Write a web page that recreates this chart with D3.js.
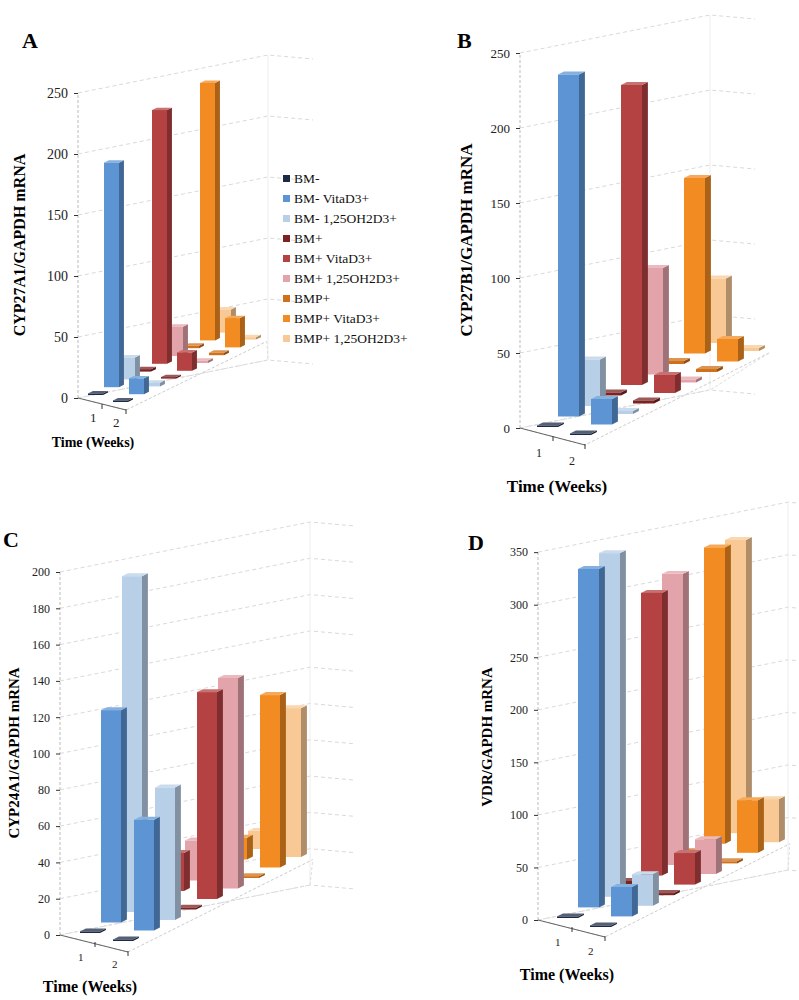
<!DOCTYPE html>
<html><head><meta charset="utf-8">
<script src="https://cdnjs.cloudflare.com/ajax/libs/d3/7.8.5/d3.min.js"></script>
<style>body{margin:0;background:#fff} svg text{font-family:"Liberation Serif",serif !important}</style>
</head><body><svg id="c" width="799" height="1000" font-family="Liberation Serif"></svg>
<script>
const seriesNames = ["BM-","BM- VitaD3+","BM- 1,25OH2D3+","BM+","BM+ VitaD3+","BM+ 1,25OH2D3+","BMP+","BMP+ VitaD3+","BMP+ 1,25OH2D3+"];
const seriesColors = ["#1c2b45","#5d95d4","#b8cfe8","#7b2222","#b44242","#e3a3aa","#d0701a","#f28c22","#f9c995"];
const weeks = ["1","2"];
// values: [week1, week2] per series
const valuesA = [[0,0],[184,13],[18,3],[2,1],[208,15],[24,2],[2,2],[211,24],[19,2]];
const valuesB = [[0,0],[228,17],[31,2],[2,2],[200,12],[71,2],[2,2],[117,15],[43,2]];
const valuesC = [[0,0],[117,61],[185,73],[5,1],[21,114],[22,116],[3,1],[12,95],[10,82]];
const valuesD = [[0,0],[322,28],[327,30],[5,2],[269,30],[277,33],[3,2],[282,50],[279,41]];
const ticksA = [0,50,100,150,200,250];
const ticksB = [0,50,100,150,200,250];
const ticksC = [0,20,40,60,80,100,120,140,160,180,200];
const ticksD = [0,50,100,150,200,250,300,350];
const titles = ["CYP27A1/GAPDH mRNA","CYP27B1/GAPDH mRNA","CYP24A1/GAPDH mRNA","VDR/GAPDH mRNA"];
const letters = ["A","B","C","D"];

const svg = d3.select("#c");
function shade(c, f){ return f>0? d3.interpolateRgb(c,"#fff")(f) : d3.interpolateRgb(c,"#000")(-f); }

const panels = [
 {vals:valuesA,ticks:ticksA,title:titles[0],L:letters[0],Lx:22,Ly:48,ax:78,y0:398,k:1.22,ox:88,oy:395,sx:16,sy:-7.8,wx:25,wy:7,bw:15,sd:5,W:190,tfs:14,lfs:16,ylx:21,yly:245,
  wt:[[102,405],[126,410]],wl:[[90,422],[113,427]],tx:93,ty:447,tifs:14},
 {vals:valuesB,ticks:ticksB,title:titles[1],L:letters[1],Lx:457,Ly:48,ax:520,y0:428,k:1.5,ox:537,oy:427,sx:21,sy:-10.5,wx:33,wy:8,bw:21,sd:6,W:190,tfs:13,lfs:17,ylx:468,yly:240,
  wt:[[553,437],[585,445]],wl:[[536,457],[569,465]],tx:557,ty:492,tifs:17},
 {vals:valuesC,ticks:ticksC,title:titles[2],L:letters[2],Lx:3,Ly:547,ax:60,y0:935,k:1.815,ox:80,oy:933,sx:21,sy:-10.5,wx:33,wy:8,bw:20,sd:6,W:250,tfs:12,lfs:15,ylx:16,yly:753,
  wt:[[95,943],[128,952]],wl:[[78,961],[112,968]],tx:90,ty:992,tifs:16},
 {vals:valuesD,ticks:ticksD,title:titles[3],L:letters[3],Lx:468,Ly:550,ax:538,y0:920,k:1.051,ox:557,oy:918,sx:21,sy:-10.6,wx:33,wy:9,bw:21,sd:6,W:250,tfs:12,lfs:15,ylx:489,yly:737,
  wt:[[572,928],[605,937]],wl:[[555,946],[588,955]],tx:567,ty:980,tifs:16}
];

panels.forEach(p=>{
  const g = svg.append("g");
  const maxT = p.ticks[p.ticks.length-1];
  const y = d3.scaleLinear().domain([0,maxT]).range([p.y0, p.y0 - maxT*p.k]);
  const h = d3.scaleLinear().domain([0,maxT]).range([0, maxT*p.k]);
  const xs = d3.scaleLinear().domain([0,8]).range([p.ox, p.ox+8*p.sx]);
  const ys = d3.scaleLinear().domain([0,8]).range([p.oy, p.oy+8*p.sy]);
  const slope = 0.2;
  p.ticks.forEach(t=>{
    const yy=y(t);
    g.append("path").attr("d",`M${p.ax},${yy}L${p.ax+p.W},${yy-p.W*slope}L${p.ax+p.W+45},${yy-p.W*slope+4}`)
      .attr("fill","none").attr("stroke","#cfcfcf").attr("stroke-width",0.8).attr("stroke-dasharray","4,3");
  });
  g.append("line").attr("x1",p.ax).attr("x2",p.ax).attr("y1",y(0)).attr("y2",y(maxT)).attr("stroke","#bbb").attr("stroke-dasharray","3,2");
  g.append("line").attr("x1",p.ax+p.W).attr("x2",p.ax+p.W).attr("y1",y(0)-p.W*slope).attr("y2",y(maxT)-p.W*slope).attr("stroke","#ededed");
  const ax = d3.axisLeft(y).tickValues(p.ticks).tickSize(4).tickPadding(6);
  const axg = g.append("g").attr("transform",`translate(${p.ax},0)`).call(ax).attr("font-family","Liberation Serif");
  axg.select(".domain").remove();
  axg.selectAll("text").attr("font-size",p.tfs).attr("fill","#222");
  axg.selectAll("line").attr("stroke","#333");
  const e = p.wt[1];
  const endx = e[0]+8.8*p.sx, endy = e[1]+8.8*p.sy;
  g.append("path").attr("d",`M${p.ax},${p.y0}L${e[0]},${e[1]}L${endx},${endy}`).attr("fill","none").attr("stroke","#ccc").attr("stroke-dasharray","3,2");
  g.append("path").attr("d",`M${p.ax},${p.y0}L${p.ax+p.W},${p.y0-p.W*slope}L${endx},${endy}`).attr("fill","none").attr("stroke","#ddd").attr("stroke-dasharray","3,2");
  g.append("line").attr("x1",p.ax).attr("y1",p.y0).attr("x2",e[0]).attr("y2",e[1]).attr("stroke","#666");
  p.wt.forEach(t=>g.append("line").attr("x1",t[0]).attr("y1",t[1]-1).attr("x2",t[0]).attr("y2",t[1]+4).attr("stroke","#333"));
  p.wl.forEach((t,i)=>g.append("text").attr("x",t[0]).attr("y",t[1]).attr("font-size",p.tfs-1).attr("fill","#222").text(weeks[i]));
  g.append("text").attr("x",p.tx).attr("y",p.ty).attr("font-size",p.tifs).attr("font-weight","bold").attr("text-anchor","middle").text("Time (Weeks)");
  g.append("text").attr("transform",`translate(${p.ylx},${p.yly}) rotate(-90)`).attr("font-size",p.lfs).attr("font-weight","bold").attr("text-anchor","middle").attr("dominant-baseline","middle").text(p.title);
  svg.append("text").attr("x",p.Lx).attr("y",p.Ly).attr("font-size",22).attr("font-weight","bold").text(p.L);
  const len = Math.hypot(p.sx,p.sy), dx = p.sd*p.sx/len*1.1, dy = p.sd*p.sy/len*1.1;
  const bars=[];
  [0,1].forEach(w=>{ for(let i=8;i>=0;i--) bars.push({i,w,v:p.vals[i][w]}); });
  bars.forEach(b=>{
    const x0 = xs(b.i)+b.w*p.wx, yb = ys(b.i)+b.w*p.wy, hh=Math.max(h(b.v),1.5), yt=yb-hh, c=seriesColors[b.i];
    const bg = g.append("g");
    bg.append("path").attr("d",`M${x0+p.bw},${yb}L${x0+p.bw+dx},${yb+dy}L${x0+p.bw+dx},${yt+dy}L${x0+p.bw},${yt}Z`).attr("fill",shade(c,-0.3));
    bg.append("path").attr("d",`M${x0},${yt}L${x0+dx},${yt+dy}L${x0+p.bw+dx},${yt+dy}L${x0+p.bw},${yt}Z`).attr("fill",shade(c,0.25));
    bg.append("rect").attr("x",x0).attr("y",yt).attr("width",p.bw).attr("height",hh).attr("fill",c);
  });
});
const lg = svg.append("g");
seriesNames.forEach((n,i)=>{
  const yy = 180 + i*20;
  lg.append("rect").attr("x",283).attr("y",yy-5).attr("width",7).attr("height",7).attr("fill",seriesColors[i]);
  lg.append("text").attr("x",294).attr("y",yy+3).attr("font-size",13.5).attr("fill","#111").text(n);
});
</script></body></html>
